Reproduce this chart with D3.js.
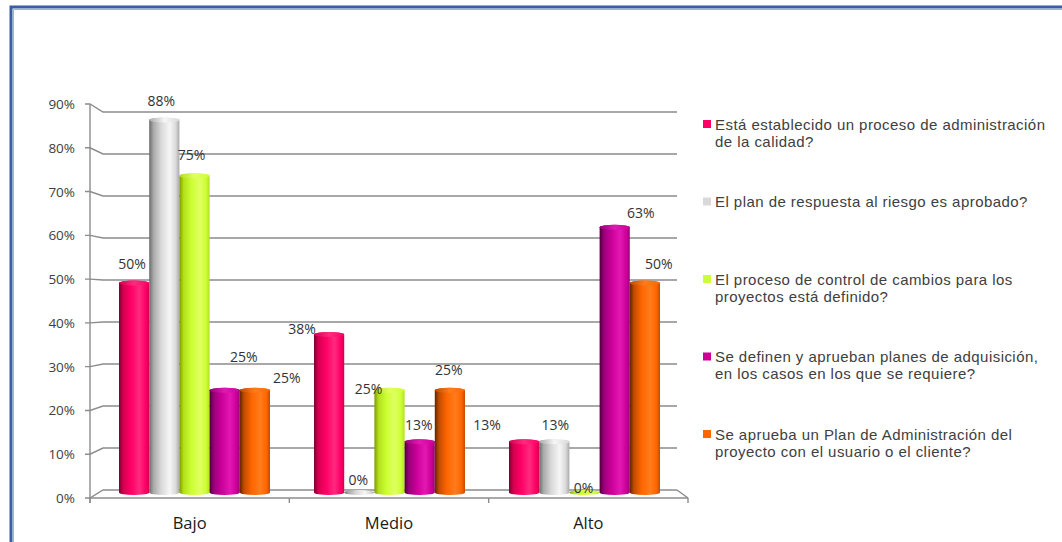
<!DOCTYPE html>
<html lang="es">
<head>
<meta charset="utf-8">
<script src="https://cdn.jsdelivr.net/npm/d3@7"></script>
<style>
  html, body { margin: 0; padding: 0; background: #ffffff; }
  svg { display: block; }
</style>
</head>
<body>
<svg id="chart" width="1062" height="542"></svg>
<script>
// Niveles evaluados (eje X)
const categories = ["Bajo", "Medio", "Alto"];

// Porcentaje de respuestas por pregunta y nivel (Bajo, Medio, Alto)
const calidad     = [50, 38, 13];
const riesgo      = [88, 0, 13];
const cambios     = [75, 25, 0];
const adquisicion = [25, 13, 63];
const planAdmin   = [25, 25, 50];

// Textos de la leyenda, una entrada por serie (líneas)
const legendLabels = [
  ["Está establecido un proceso de administración", "de la calidad?"],
  ["El plan de respuesta al riesgo es aprobado?"],
  ["El proceso de control de cambios para los", "proyectos está definido?"],
  ["Se definen y aprueban planes de adquisición,", "en los casos en los que se requiere?"],
  ["Se aprueba un Plan de Administración del", "proyecto con el usuario o el cliente?"]
];

// Marcas del eje Y
const yTicks = [0, 10, 20, 30, 40, 50, 60, 70, 80, 90];

const seriesValues = [calidad, riesgo, cambios, adquisicion, planAdmin];

// Colores: base, borde oscuro, brillo
const palette = [
  { base: "#ff0066", dark: "#7a0031", mid: "#d4004f", light: "#ff2a7e" },
  { base: "#d9d9d9", dark: "#6a6a6a", mid: "#a9a9a9", light: "#f6f6f6" },
  { base: "#ccff33", dark: "#7f9a00", mid: "#b3e01c", light: "#e0ff62" },
  { base: "#cc0099", dark: "#4a0038", mid: "#99007a", light: "#e318b2" },
  { base: "#ff6600", dark: "#5e2400", mid: "#c24c00", light: "#ff7c1c" }
];

// Desplazamientos manuales de las etiquetas de datos [dx, dy]
const labelNudge = [
  [[0, 0],   [-25, 13], [-35, 2]],
  [[-1, 0],  [1, 1],    [3, 2]],
  [[-1, -2], [-19, 18], [1, 9]],
  [[21, -14],[1, 2],    [28, 5]],
  [[34, 7],  [1, -1],   [16, 0]]
];

const svg = d3.select("#chart");
const defs = svg.append("defs");

// Marco del gráfico
svg.append("path")
  .attr("d", "M11,542 V7 H1062")
  .attr("fill", "none")
  .attr("stroke", "#3a5da5")
  .attr("stroke-width", 3);
svg.append("path")
  .attr("d", "M13.5,542 V9.5 H1062")
  .attr("fill", "none")
  .attr("stroke", "#9fb3da")
  .attr("stroke-width", 1);

// Escalas: pared del fondo, cara frontal y barras (perspectiva)
const yBack  = d3.scaleLinear().domain([0, 90]).range([490, 112]);
const yFront = d3.scaleLinear().domain([0, 90]).range([498, 104]);
const yBar   = d3.scaleLinear().domain([0, 90]).range([495, 109]);

const xFront = d3.scaleBand().domain(categories).range([90, 688]);
const xGroup = d3.scaleBand().domain(categories).range([97, 682]);
const xSeries = d3.scaleBand().domain(d3.range(seriesValues.length)).range([22, 173]);

const backLeft = 103, backRight = 677;
const gridColor = "#8c8c8c";
const fontLabel = "'Open Sans', 'Noto Sans', sans-serif";

// Rejilla en perspectiva
const grid = svg.append("g").attr("fill", "none").attr("stroke", gridColor).attr("stroke-width", 1.4);
yTicks.forEach(t => {
  grid.append("path")
    .attr("d", `M85,${yFront(t)} H90 L${backLeft},${yBack(t)} H${backRight}`);
});
// Suelo: arista derecha y línea frontal
grid.append("path").attr("d", `M${backRight},${yBack(0)} L688,${yFront(0)}`);
grid.append("line").attr("x1", 90).attr("x2", 688).attr("y1", yFront(0)).attr("y2", yFront(0));
// Eje vertical
grid.append("line").attr("x1", 90).attr("x2", 90).attr("y1", yFront(90)).attr("y2", yFront(0) + 5);
// Separadores de categoría
const catEdges = categories.map(c => xFront(c)).concat([xFront.range()[1]]);
catEdges.forEach(x => {
  grid.append("line").attr("x1", x).attr("x2", x).attr("y1", yFront(0)).attr("y2", yFront(0) + 5);
});

// Etiquetas del eje Y
svg.append("g")
  .selectAll("text")
  .data(yTicks)
  .join("text")
  .attr("x", 75)
  .attr("y", d => yFront(d))
  .attr("text-anchor", "end")
  .attr("dominant-baseline", "central")
  .attr("font-family", fontLabel)
  .attr("font-size", 13.5)
  .attr("fill", "#404040")
  .text(d => d + "%");

// Etiquetas de categoría
svg.append("g")
  .selectAll("text")
  .data(categories)
  .join("text")
  .attr("x", d => xFront(d) + xFront.bandwidth() / 2)
  .attr("y", 522)
  .attr("text-anchor", "middle")
  .attr("dominant-baseline", "central")
  .attr("font-family", fontLabel)
  .attr("font-size", 16.5)
  .attr("fill", "#1a1a1a")
  .text(d => d);

// Degradados cilíndricos
palette.forEach((p, i) => {
  const g = defs.append("linearGradient").attr("id", "cyl" + i)
    .attr("x1", "0").attr("x2", "1").attr("y1", "0").attr("y2", "0");
  [[0, p.dark], [0.14, p.mid], [0.4, p.base], [0.68, p.light], [0.88, p.base], [1, p.mid]]
    .forEach(([o, c]) => g.append("stop").attr("offset", o).attr("stop-color", c));
  const t = defs.append("linearGradient").attr("id", "cap" + i)
    .attr("x1", "0").attr("x2", "1").attr("y1", "0").attr("y2", "0");
  [[0, p.mid], [0.5, p.light], [1, p.base]]
    .forEach(([o, c]) => t.append("stop").attr("offset", o).attr("stop-color", c));
});

// Barras cilíndricas
const ry = 2.5;
const bars = [];
seriesValues.forEach((vals, s) => {
  vals.forEach((v, c) => {
    bars.push({ s, c, v, cat: categories[c] });
  });
});

const barG = svg.append("g");
bars.forEach(b => {
  const x = xGroup(b.cat) + xSeries(b.s);
  const w = xSeries.bandwidth();
  const cx = x + w / 2;
  const yTop = yBar(b.v);
  const yBase = yBar(0);
  if (b.v <= 0) {
    barG.append("ellipse")
      .attr("cx", cx).attr("cy", yBase - ry)
      .attr("rx", w / 2).attr("ry", ry)
      .attr("fill", `url(#cyl${b.s})`);
    return;
  }
  const rx = w / 2;
  const d = `M${x},${yTop + ry} V${yBase - ry} A${rx},${ry} 0 0 0 ${x + w},${yBase - ry} V${yTop + ry} A${rx},${ry} 0 0 0 ${x},${yTop + ry} Z`;
  barG.append("path").attr("d", d).attr("fill", `url(#cyl${b.s})`);
  barG.append("ellipse")
    .attr("cx", cx).attr("cy", yTop + ry)
    .attr("rx", rx).attr("ry", ry)
    .attr("fill", `url(#cap${b.s})`);
});

// Etiquetas de datos
svg.append("g")
  .selectAll("text")
  .data(bars)
  .join("text")
  .attr("x", d => xGroup(d.cat) + xSeries(d.s) + xSeries.bandwidth() / 2 - 2 + labelNudge[d.s][d.c][0])
  .attr("y", d => yBar(d.v) - 17 + labelNudge[d.s][d.c][1])
  .attr("text-anchor", "middle")
  .attr("dominant-baseline", "central")
  .attr("font-family", fontLabel)
  .attr("font-size", 14)
  .attr("fill", "#333333")
  .text(d => d.v + "%");

// Leyenda
const legend = svg.append("g").attr("transform", "translate(703,0)");
const legendY = d3.scalePoint().domain(d3.range(legendLabels.length)).range([124, 434]);
legendLabels.forEach((lines, i) => {
  const y0 = legendY(i);
  legend.append("rect")
    .attr("x", 0).attr("y", y0 - 4).attr("width", 8).attr("height", 8)
    .attr("fill", palette[i].base);
  const t = legend.append("text")
    .attr("font-family", "'Liberation Sans', Arial, sans-serif")
    .attr("font-size", 15)
    .attr("letter-spacing", 0.45)
    .attr("fill", "#404040");
  lines.forEach((ln, k) => {
    t.append("tspan")
      .attr("x", 12)
      .attr("y", y0 + k * 17)
      .attr("dominant-baseline", "central")
      .text(ln);
  });
});
</script>
</body>
</html>
